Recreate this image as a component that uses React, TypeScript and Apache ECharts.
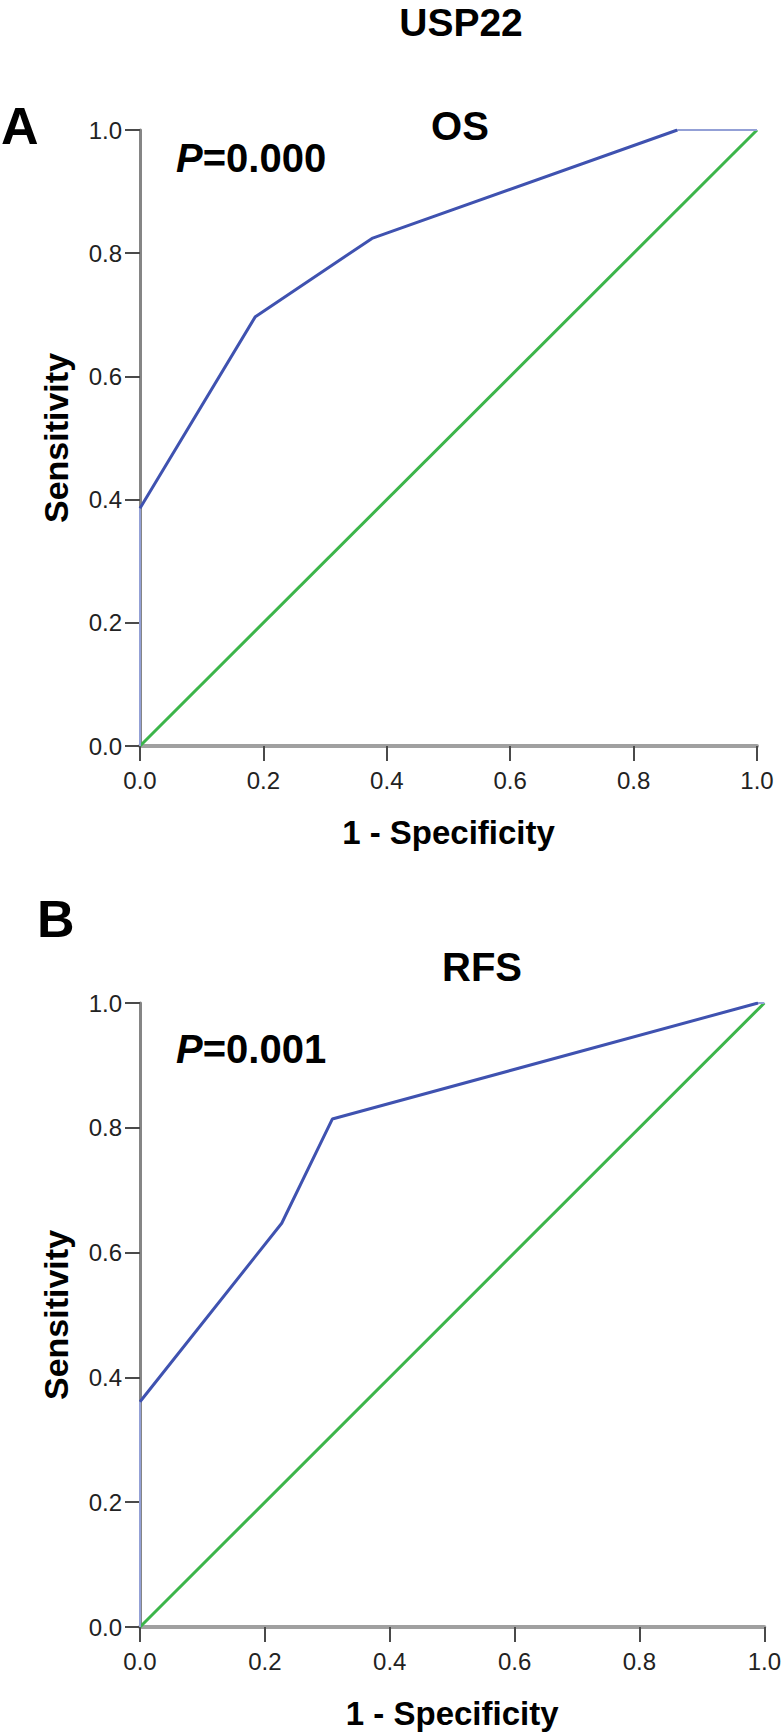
import React, { useEffect, useRef } from "react";
import * as echarts from "echarts";

// Panel A (OS) ROC curve points: 1 - specificity, sensitivity
const osFpr = [0, 0, 0.187, 0.376, 0.871, 1];
const osTpr = [0, 0.386, 0.697, 0.824, 1, 1];
// Panel B (RFS) ROC curve points
const rfsFpr = [0, 0, 0.227, 0.308, 0.99, 1];
const rfsTpr = [0, 0.361, 0.647, 0.814, 1, 1];
// Reference (chance) line
const refX = [0, 1];
const refY = [0, 1];
// Tick values
const tickValues = [0, 0.2, 0.4, 0.6, 0.8, 1.0];

const mainTitle = "USP22";
const panelTitles = ["OS", "RFS"];
const panelLetters = ["A", "B"];
const pValues = ["=0.000", "=0.001"];

const FONT = "'Liberation Sans', Arial, Helvetica, sans-serif";
const BLUE = "#3f52b0";
const BLUE_THIN = "#93a0d6";
const GREEN = "#3cb54a";

const pairs = (xs: number[], ys: number[]) => xs.map((x, i) => [x, ys[i]]);

export default function App() {
  const ref = useRef<HTMLDivElement>(null);
  useEffect(() => {
    document.body.style.margin = "0";
    if (!ref.current) return;
    const chart = echarts.init(ref.current, undefined, { renderer: "svg" });

    const mkX = (gi: number) => ({
      type: "value",
      gridIndex: gi,
      min: tickValues[0],
      max: tickValues[tickValues.length - 1],
      interval: 0.2,
      name: "1 - Specificity",
      nameLocation: "middle",
      nameGap: 70,
      nameTextStyle: { fontSize: 33, fontWeight: "bold", color: "#000", fontFamily: FONT },
      axisLine: { show: true, lineStyle: { color: "#a0a0a0", width: 4 } },
      axisTick: { show: true, length: 15, lineStyle: { color: "#4a4a4a", width: 2 } },
      axisLabel: {
        fontSize: 24,
        color: "#222",
        fontFamily: FONT,
        margin: 22,
        formatter: (v: number) => v.toFixed(1),
      },
      splitLine: { show: false },
    });
    const mkY = (gi: number) => ({
      type: "value",
      gridIndex: gi,
      min: tickValues[0],
      max: tickValues[tickValues.length - 1],
      interval: 0.2,
      name: "Sensitivity",
      nameLocation: "middle",
      nameRotate: 90,
      nameGap: 67,
      nameTextStyle: { fontSize: 34, fontWeight: "bold", color: "#000", fontFamily: FONT },
      axisLine: { show: true, lineStyle: { color: "#858585", width: 3 } },
      axisTick: { show: true, length: 15, lineStyle: { color: "#4a4a4a", width: 2 } },
      axisLabel: {
        fontSize: 24,
        color: "#222",
        fontFamily: FONT,
        margin: 18,
        formatter: (v: number) => v.toFixed(1),
      },
      splitLine: { show: false },
    });

    const curveSeries = (gi: number, xs: number[], ys: number[]) => {
      const pts = pairs(xs, ys);
      const n = pts.length;
      return [
        {
          type: "line",
          xAxisIndex: gi,
          yAxisIndex: gi,
          data: pts.slice(0, 2),
          symbol: "none",
          lineStyle: { color: BLUE_THIN, width: 2 },
          z: 4,
        },
        {
          type: "line",
          xAxisIndex: gi,
          yAxisIndex: gi,
          data: pts.slice(1, n - 1),
          symbol: "none",
          lineStyle: { color: BLUE, width: 3 },
          z: 5,
        },
        {
          type: "line",
          xAxisIndex: gi,
          yAxisIndex: gi,
          data: pts.slice(n - 2),
          symbol: "none",
          lineStyle: { color: BLUE_THIN, width: 2 },
          z: 4,
        },
        {
          type: "line",
          xAxisIndex: gi,
          yAxisIndex: gi,
          data: pairs(refX, refY),
          symbol: "none",
          lineStyle: { color: GREEN, width: 3 },
          z: 3,
        },
      ];
    };

    const pText = (i: number, y: number) => ({
      type: "text",
      left: 176,
      top: y,
      style: {
        text: `{p|P}{v|${pValues[i]}}`,
        rich: {
          p: { fontSize: 40, fontWeight: "bold", fontStyle: "italic", fill: "#000", fontFamily: FONT },
          v: { fontSize: 40, fontWeight: "bold", fill: "#000", fontFamily: FONT },
        },
      },
    });

    const boldText = (text: string, x: number, y: number, size: number, align: string) => ({
      type: "text",
      x,
      y,
      style: {
        text,
        fontSize: size,
        fontWeight: "bold",
        fill: "#000",
        fontFamily: FONT,
        textAlign: align,
        textVerticalAlign: "middle",
      },
    });

    chart.setOption({
      animation: false,
      backgroundColor: "#ffffff",
      grid: [
        { left: 140, top: 130, width: 617, height: 616 },
        { left: 140, top: 1003, width: 626, height: 624 },
      ],
      xAxis: [mkX(0), mkX(1)],
      yAxis: [mkY(0), mkY(1)],
      series: [...curveSeries(0, osFpr, osTpr), ...curveSeries(1, rfsFpr, rfsTpr)],
      graphic: [
        boldText(mainTitle, 461, 22, 39, "center"),
        boldText(panelLetters[0], 1, 126, 52, "left"),
        boldText(panelTitles[0], 460, 126, 40, "center"),
        pText(0, 138),
        boldText(panelLetters[1], 37, 919, 52, "left"),
        boldText(panelTitles[1], 482, 967, 40, "center"),
        pText(1, 1029),
      ],
    });
    return () => chart.dispose();
  }, []);
  return <div ref={ref} style={{ width: 784, height: 1734 }} />;
}
